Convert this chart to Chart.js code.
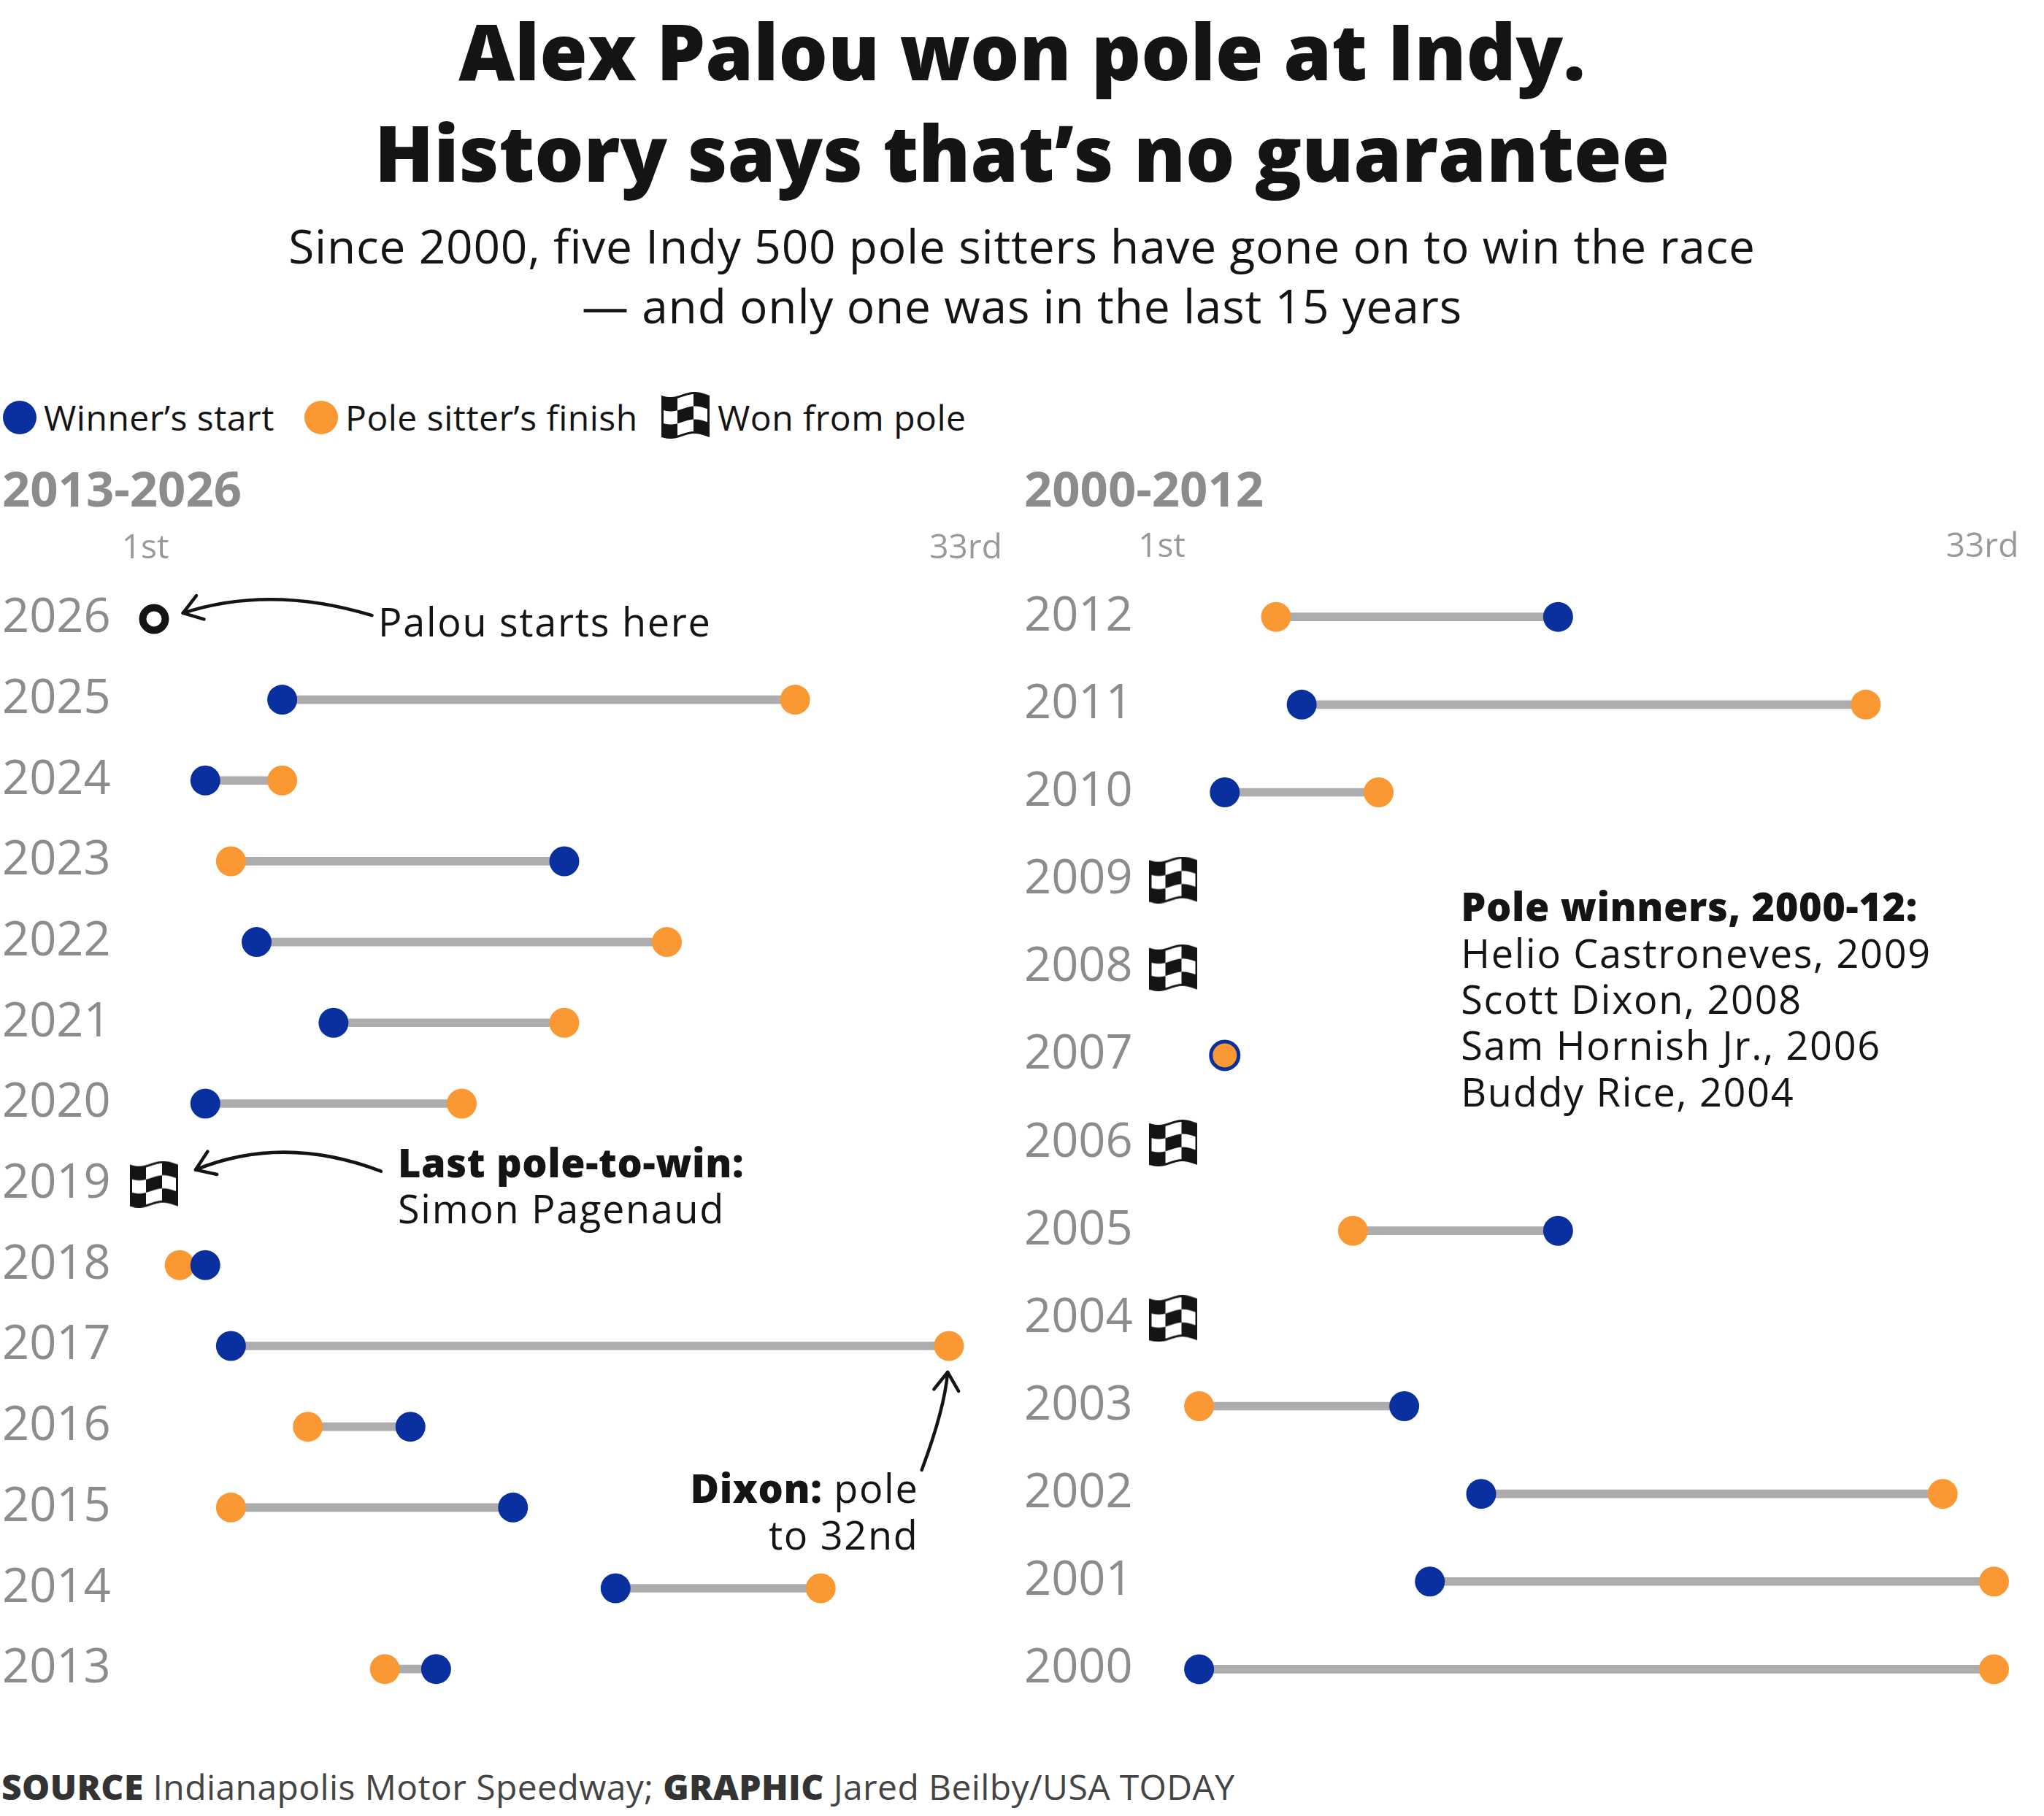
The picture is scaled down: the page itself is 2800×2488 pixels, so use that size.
<!DOCTYPE html>
<html>
<head>
<meta charset="utf-8">
<script src="https://cdn.jsdelivr.net/npm/chart.js@4.4.1/dist/chart.umd.min.js"></script>
<style>
  body { margin: 0; background: #fff; width: 2800px; height: 2488px; position: relative; overflow: hidden;
         font-family: "Open Sans", sans-serif; color: #141414; }
  .abs { position: absolute; }
  #title { left: 0; width: 2800px; top: 0; text-align: center; font-weight: 800; font-size: 106px; line-height: 139px; }
  #sub { left: 0; width: 2800px; top: 296px; text-align: center; font-size: 64px; line-height: 82px; letter-spacing: 0.8px; }
  #legend { left: 0; top: 542px; width: 1400px; height: 64px; font-size: 48px; line-height: 60px; letter-spacing: 0.5px; white-space: nowrap; }
  #legend span, #legend canvas { position: absolute; }
  .dot { width: 46px; height: 46px; border-radius: 50%; top: 7px; }
  #foot { left: 2px; top: 2418px; font-size: 48px; line-height: 60px; letter-spacing: 0.4px; color: #444; white-space: nowrap; }
  #foot b { font-weight: 800; color: #333; }
  canvas.panel { position: absolute; top: 630px; }
</style>
</head>
<body>
<div id="title" class="abs">Alex Palou won pole at Indy.<br>History says that’s no guarantee</div>
<div id="sub" class="abs">Since 2000, five Indy 500 pole sitters have gone on to win the race<br>— and only one was in the last 15 years</div>
<div id="legend" class="abs">
  <span class="dot" style="left:4px;background:#0a30a0"></span>
  <span style="left:60px">Winner’s start</span>
  <span class="dot" style="left:417px;background:#fa9833"></span>
  <span style="left:473px">Pole sitter’s finish</span>
  <span style="left:983px">Won from pole</span>
</div>
<canvas id="left" class="panel" width="1400" height="1740" style="left:0"></canvas>
<canvas id="right" class="panel" width="1400" height="1740" style="left:1400px"></canvas>
<div id="foot" class="abs"><b>SOURCE</b> Indianapolis Motor Speedway; <b>GRAPHIC</b> Jared Beilby/USA TODAY</div>

<script>
const BLUE = '#0a30a0';
const ORANGE = '#fa9833';
const GRAY = '#adadad';
const INK = '#141414';
const MUTED = '#8c8c8c';
const FONT = '"Open Sans", sans-serif';

// 2013-2026 panel, top row first
const leftYears = ['2026', '2025', '2024', '2023', '2022', '2021', '2020', '2019', '2018', '2017', '2016', '2015', '2014', '2013'];
const leftWinnerStart = [null, 6, 3, 17, 5, 8, 3, null, 3, 4, 11, 15, 19, 12];
const leftPoleFinish = [null, 26, 6, 4, 21, 17, 13, null, 2, 32, 7, 4, 27, 10];
const leftWonFromPole = ['2019'];
const palouStart = 1;

// 2000-2012 panel
const rightYears = ['2012', '2011', '2010', '2009', '2008', '2007', '2006', '2005', '2004', '2003', '2002', '2001', '2000'];
const rightWinnerStart = [16, 6, 3, null, null, 3, null, 16, null, 10, 13, 11, 2];
const rightPoleFinish = [5, 28, 9, null, null, 3, null, 8, null, 2, 31, 33, 33];
const rightWonFromPole = ['2009', '2008', '2006', '2004'];

const tickValues = [1, 33];
const tickLabels = ['1st', '33rd'];

function makeFlag(w, h) {
  const c = document.createElement('canvas');
  c.width = w; c.height = h;
  const g = c.getContext('2d');
  const pad = 1.5, amp = 3.5;
  const top = x => pad + amp + amp * Math.sin(Math.PI * 2 * x / w + 0.4);
  const fh = h - 2 * pad - 2 * amp;
  const cols = 3, rows = 3;
  for (let x = 0; x < w; x++) {
    const col = Math.min(cols - 1, Math.floor(x * cols / w));
    for (let r = 0; r < rows; r++) {
      g.fillStyle = (col + r) % 2 ? '#ffffff' : INK;
      g.fillRect(x, top(x) + r * fh / rows, 1, fh / rows + 0.6);
    }
  }
  g.strokeStyle = INK;
  g.lineWidth = 3;
  g.beginPath();
  for (let x = 1.5; x <= w - 1.5; x++) g.lineTo(x, top(x));
  for (let x = w - 1.5; x >= 1.5; x--) g.lineTo(x, top(x) + fh);
  g.closePath();
  g.stroke();
  return c;
}

const flagIcon = makeFlag(66, 64);
const legendFlag = makeFlag(66, 64);
legendFlag.style.left = '906px';
legendFlag.style.top = '-5px';
document.getElementById('legend').appendChild(legendFlag);

function pt(chart, pos, year, dy) {
  const y = chart.scales.y;
  return [chart.scales.x.getPixelForValue(pos), y.getPixelForValue(y.getLabels().indexOf(year)) + dy];
}

// parts: [text, weight]; bold runs get a little less tracking than regular ones
function textLine(ctx, parts, p, align) {
  const setFont = wt => {
    ctx.font = `${wt} 54px ${FONT}`;
    ctx.letterSpacing = wt >= 700 ? '0.6px' : '1.7px';
  };
  let w = 0;
  parts.forEach(([t, wt]) => { setFont(wt); w += ctx.measureText(t).width; });
  let x = align === 'right' ? p[0] - w : p[0];
  ctx.textAlign = 'left';
  ctx.textBaseline = 'alphabetic';
  parts.forEach(([t, wt]) => {
    setFont(wt);
    ctx.fillText(t, x, p[1]);
    x += ctx.measureText(t).width;
  });
  ctx.letterSpacing = '0px';
}

function arrow(ctx, a, c, b) {
  ctx.beginPath();
  ctx.moveTo(a[0], a[1]);
  ctx.quadraticCurveTo(c[0], c[1], b[0], b[1]);
  ctx.stroke();
  const ang = Math.atan2(b[1] - c[1], b[0] - c[0]);
  const L = 30, s = 0.6;
  ctx.beginPath();
  ctx.moveTo(b[0] - L * Math.cos(ang - s), b[1] - L * Math.sin(ang - s));
  ctx.lineTo(b[0], b[1]);
  ctx.lineTo(b[0] - L * Math.cos(ang + s), b[1] - L * Math.sin(ang + s));
  ctx.stroke();
}

const noteDrawers = {
  left(chart) {
    const ctx = chart.ctx;
    textLine(ctx, [['Palou starts here', 400]], pt(chart, 9.74, '2026', 23.7), 'left');
    arrow(ctx, pt(chart, 9.5, '2026', -4.8), pt(chart, 5.53, '2026', -47), pt(chart, 2.13, '2026', -8));

    textLine(ctx, [['Last pole-to-win:', 800]], pt(chart, 10.51, '2019', -9.5), 'left');
    textLine(ctx, [['Simon Pagenaud', 400]], pt(chart, 10.51, '2019', 53), 'left');
    arrow(ctx, pt(chart, 9.85, '2019', -18), pt(chart, 6.05, '2019', -69), pt(chart, 2.62, '2019', -20));

    textLine(ctx, [['Dixon:', 800], [' pole', 400]], pt(chart, 30.82, '2015', -6.4), 'right');
    textLine(ctx, [['to 32nd', 400]], pt(chart, 30.82, '2015', 57.6), 'right');
    arrow(ctx, pt(chart, 30.94, '2015', -51.4), pt(chart, 31.84, '2017', 85), pt(chart, 31.95, '2017', 36));
  },
  right(chart) {
    const ctx = chart.ctx;
    const lines = [
      [['Pole winners, 2000-12:', 800]],
      [['Helio Castroneves, 2009', 400]],
      [['Scott Dixon, 2008', 400]],
      [['Sam Hornish Jr., 2006', 400]],
      [['Buddy Rice, 2004', 400]]
    ];
    lines.forEach((l, i) => textLine(ctx, l, pt(chart, 12.21, '2009', 56.5 + i * 63.4), 'left'));
  }
};

const notesPlugin = {
  id: 'notes',
  afterDatasetsDraw(chart) {
    const ctx = chart.ctx;
    ctx.save();
    ctx.fillStyle = INK;
    ctx.strokeStyle = INK;
    ctx.lineWidth = 4.5;
    ctx.lineCap = 'round';
    ctx.lineJoin = 'round';
    noteDrawers[chart.canvas.id](chart);
    ctx.restore();
  }
};

function buildPanel(id, years, start, finish, poleWins, heading, layout) {
  const segs = years.map((y, i) => (start[i] != null ? [start[i], finish[i]] : null));
  const blue = [], orange = [];
  years.forEach((y, i) => {
    if (start[i] != null) blue.push({ x: start[i], y: y, same: start[i] === finish[i] });
    if (finish[i] != null) orange.push({ x: finish[i], y: y });
  });
  const flags = poleWins.map(y => ({ x: 1, y: y }));

  const datasets = [
    { type: 'bar', data: segs, backgroundColor: GRAY, barThickness: 11, borderWidth: 0, borderSkipped: false, order: 4 },
    { type: 'scatter', data: orange, pointRadius: 20.5, pointHoverRadius: 20.5, pointBackgroundColor: ORANGE,
      pointBorderWidth: 0, order: 3 },
    { type: 'scatter', data: blue, order: 2,
      pointRadius: c => (c.raw && c.raw.same ? 19 : 20.5),
      pointHoverRadius: c => (c.raw && c.raw.same ? 19 : 20.5),
      pointBackgroundColor: c => (c.raw && c.raw.same ? ORANGE : BLUE),
      pointBorderColor: BLUE,
      pointBorderWidth: c => (c.raw && c.raw.same ? 5 : 0) },
    { type: 'scatter', data: flags, pointStyle: flagIcon, pointRadius: 30, order: 1, clip: false }
  ];
  if (id === 'left') {
    datasets.push({ type: 'scatter', data: [{ x: palouStart, y: '2026' }], pointRadius: 15.5, pointHoverRadius: 15.5,
      pointBackgroundColor: '#ffffff', pointBorderColor: INK, pointBorderWidth: 10, order: 0 });
  }

  return new Chart(document.getElementById(id), {
    type: 'bar',
    data: { labels: years, datasets: datasets },
    plugins: [notesPlugin],
    options: {
      responsive: false,
      animation: false,
      devicePixelRatio: 1,
      indexAxis: 'y',
      events: [],
      layout: { autoPadding: false, padding: { left: 3, right: 0, top: 0, bottom: layout.bottom } },
      plugins: {
        legend: { display: false },
        tooltip: { enabled: false },
        title: {
          display: true, text: heading, align: 'start', color: MUTED,
          font: { family: FONT, size: 67, weight: 'bold', lineHeight: 1 },
          padding: { top: 11.7, bottom: layout.titleGap }
        }
      },
      scales: {
        x: {
          type: 'linear', position: 'top', min: -0.5, max: layout.max,
          grid: { display: false, drawTicks: false }, border: { display: false },
          afterBuildTicks: s => { s.ticks = tickValues.map(v => ({ value: v })); },
          afterFit: s => { s.paddingLeft = 0; s.paddingRight = 0; },
          ticks: {
            padding: layout.tickPad, color: '#999999', maxRotation: 0, autoSkip: false,
            labelOffset: layout.labelShift,
            font: { family: FONT, size: 46 },
            callback: v => tickLabels[tickValues.indexOf(v)]
          }
        },
        y: {
          type: 'category', labels: years, offset: true,
          grid: { display: false, drawTicks: false }, border: { display: false },
          afterFit: s => { s.width = layout.axisWidth; s.paddingTop = 0; s.paddingBottom = 0; },
          ticks: { crossAlign: 'far', padding: 0, color: MUTED, autoSkip: false, font: { family: FONT, size: 65 } }
        }
      }
    }
  });
}

buildPanel('left', leftYears, leftWinnerStart, leftPoleFinish, leftWonFromPole, '2013-2026',
  { axisWidth: 155.3, max: 34.85, tickPad: 13.6, titleGap: 1.5, bottom: 28, labelShift: -12 });
buildPanel('right', rightYears, rightWinnerStart, rightPoleFinish, rightWonFromPole, '2000-2012',
  { axisWidth: 151.8, max: 34.95, tickPad: 8.1, titleGap: 5, bottom: 23, labelShift: -16 });
</script>
</body>
</html>
